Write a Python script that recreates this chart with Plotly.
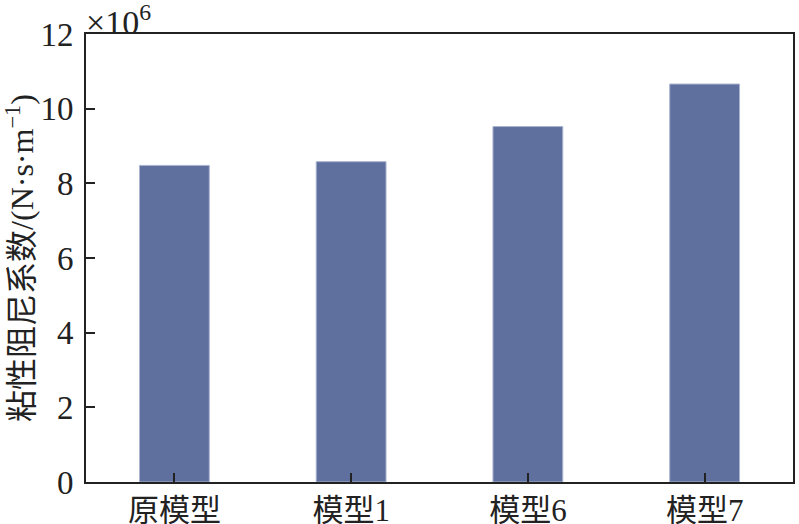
import plotly.graph_objects as go

categories = ["原模型", "模型1", "模型6", "模型7"]
values = [8.48, 8.58, 9.52, 10.66]
y_ticks = [0, 2, 4, 6, 8, 10, 12]

font_family = "Liberation Serif, Times New Roman, Noto Sans CJK SC, serif"

fig = go.Figure()
fig.add_trace(go.Bar(
    x=categories, y=values,
    marker=dict(color="#5f6f9e", line=dict(color="#aab4cf", width=1)),
    width=0.395,
))

fig.update_layout(
    width=799, height=524,
    margin=dict(l=86, r=6, t=34, b=42),
    paper_bgcolor="white", plot_bgcolor="white",
    showlegend=False,
    font=dict(family=font_family, size=32, color="#222222"),
    xaxis=dict(
        showline=True, linecolor="#222222", linewidth=2, mirror=True,
        ticks="inside", ticklen=9, tickwidth=2, tickcolor="#222222",
        tickfont=dict(size=31), showgrid=False, ticklabelstandoff=0,
        automargin=False,
    ),
    yaxis=dict(
        range=[0, 12], tickvals=y_ticks,
        showline=True, linecolor="#222222", linewidth=2, mirror=True,
        ticks="inside", ticklen=9, tickwidth=2, tickcolor="#222222",
        tickfont=dict(size=33), showgrid=False, zeroline=False,
        ticklabelstandoff=4, automargin=False,
        title=dict(text="粘性阻尼系数/(N·s·m<sup>−1</sup>)", font=dict(size=32), standoff=8),
    ),
)

fig.add_annotation(
    xref="paper", yref="paper", x=0.0, y=1.0, xanchor="left", yanchor="bottom",
    text="×10<sup>6</sup>", showarrow=False, font=dict(size=34, family=font_family),
    yshift=-9, xshift=-2,
)

fig.write_html(
    "out.html",
    config={"displayModeBar": False},
    post_script="document.body.style.margin='0';document.body.style.overflow='hidden';",
)
